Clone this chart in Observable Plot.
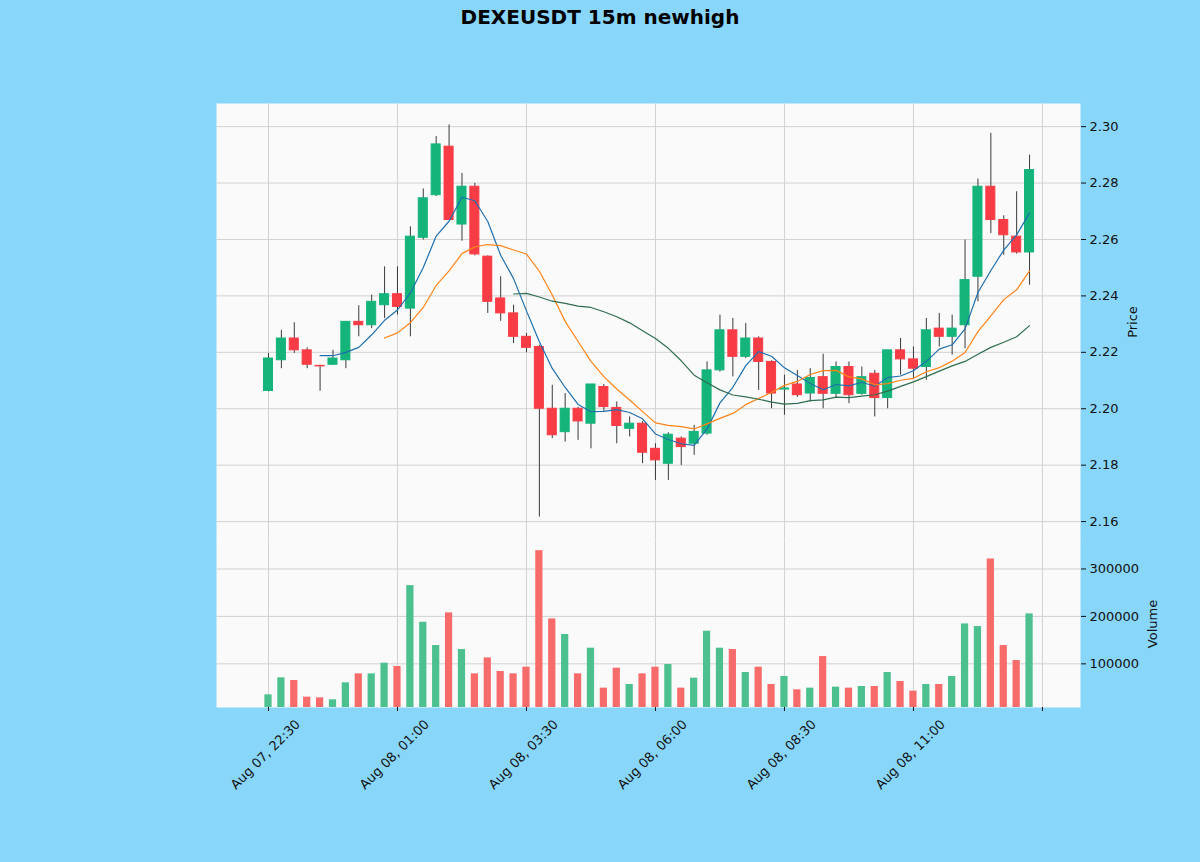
<!DOCTYPE html>
<html>
<head>
<meta charset="utf-8">
<script src="https://cdn.jsdelivr.net/npm/d3@7"></script>
<script src="https://cdn.jsdelivr.net/npm/@observablehq/plot@0.6"></script>
<style>
html,body{margin:0;padding:0;background:#89d6fb;width:1200px;height:862px;overflow:hidden;font-family:"DejaVu Sans",sans-serif;}
#title{position:absolute;left:0;top:5px;width:1200px;text-align:center;font-weight:bold;font-size:20px;color:#000;}
#price{position:absolute;left:0;top:103px;z-index:2;}
#volume{position:absolute;left:0;top:539px;z-index:1;}
svg{overflow:visible;}
</style>
</head>
<body>
<div id="title">DEXEUSDT 15m newhigh</div>
<div id="price"></div>
<div id="volume"></div>
<script>
// ---- data (15m candles, Aug 07 22:30 -> Aug 08 13:15) ----
const opens = [
  2.2063, 2.2172, 2.2249, 2.2207, 2.2152, 2.2156, 2.2172, 2.2308, 2.2296, 2.2367,
  2.2406, 2.2355, 2.2606, 2.2757, 2.2929, 2.2653, 2.2787, 2.2539, 2.2391, 2.2338,
  2.2255, 2.2219, 2.2000, 2.1917, 2.2000, 2.1947, 2.2077, 2.2003, 2.1929, 2.1947,
  2.1858, 2.1805, 2.1894, 2.1876, 2.1912, 2.2136, 2.2278, 2.2184, 2.2249, 2.2166,
  2.2068, 2.2086, 2.2054, 2.2112, 2.2053, 2.2148, 2.2053, 2.2124, 2.2038, 2.2207,
  2.2175, 2.2148, 2.2284, 2.2255, 2.2296, 2.2468, 2.2787, 2.2669, 2.2610, 2.2554
];
const highs = [
  2.2196, 2.2278, 2.2305, 2.2216, 2.2154, 2.2207, 2.2308, 2.2365, 2.2403, 2.2503,
  2.2503, 2.2645, 2.2779, 2.2965, 2.3006, 2.2834, 2.2799, 2.2542, 2.2468, 2.2367,
  2.2267, 2.2225, 2.2083, 2.2054, 2.2005, 2.2086, 2.2086, 2.2024, 2.1971, 2.1955,
  2.1876, 2.1915, 2.1900, 2.1941, 2.2166, 2.2332, 2.2320, 2.2302, 2.2255, 2.2170,
  2.2119, 2.2136, 2.2142, 2.2193, 2.2166, 2.2166, 2.2148, 2.2136, 2.2207, 2.2249,
  2.2219, 2.2320, 2.2338, 2.2332, 2.2598, 2.2814, 2.2976, 2.2684, 2.2769, 2.2899
];
const lows = [
  2.2060, 2.2142, 2.2196, 2.2142, 2.2062, 2.2154, 2.2142, 2.2255, 2.2284, 2.2320,
  2.2332, 2.2255, 2.2598, 2.2752, 2.2669, 2.2594, 2.2542, 2.2338, 2.2310, 2.2231,
  2.2199, 2.1616, 2.1894, 2.1882, 2.1888, 2.1858, 2.1991, 2.1876, 2.1900, 2.1805,
  2.1746, 2.1746, 2.1799, 2.1835, 2.1906, 2.2130, 2.2113, 2.2178, 2.2065, 2.2000,
  2.1977, 2.2040, 2.2024, 2.2000, 2.2036, 2.2018, 2.2048, 2.1971, 2.2000, 2.2119,
  2.2107, 2.2101, 2.2219, 2.2190, 2.2213, 2.2379, 2.2621, 2.2544, 2.2548, 2.2438
];
const closes = [
  2.2178, 2.2249, 2.2207, 2.2156, 2.2150, 2.2178, 2.2308, 2.2296, 2.2379, 2.2406,
  2.2361, 2.2610, 2.2746, 2.2937, 2.2669, 2.2787, 2.2547, 2.2379, 2.2338, 2.2255,
  2.2216, 2.2000, 2.1906, 2.2000, 2.1955, 2.2086, 2.2006, 2.1939, 2.1947, 2.1844,
  2.1817, 2.1908, 2.1864, 2.1918, 2.2136, 2.2278, 2.2184, 2.2249, 2.2166, 2.2054,
  2.2072, 2.2048, 2.2109, 2.2053, 2.2148, 2.2048, 2.2112, 2.2038, 2.2207, 2.2175,
  2.2142, 2.2278, 2.2255, 2.2284, 2.2456, 2.2787, 2.2669, 2.2615, 2.2554, 2.2846
];
const volumes = [
  34700, 70500, 64900, 29800, 28400, 24200, 60000, 78900, 78900, 101400,
  94400, 264900, 187700, 138600, 207400, 130200, 78900, 112600, 83900, 78900,
  93000, 338600, 194700, 161800, 78900, 133000, 48800, 90900, 56500, 78900,
  93000, 98600, 48800, 69800, 168800, 133000, 130200, 81800, 93000, 56500,
  73300, 45300, 48800, 115400, 50900, 48800, 52300, 52300, 81800, 62800,
  42500, 56500, 56500, 73300, 184200, 178600, 321100, 138600, 107000, 205300
];
const xTicks = [0, 10, 20, 30, 40, 50, 60];
const xTickLabels = ["Aug 07, 22:30", "Aug 08, 01:00", "Aug 08, 03:30", "Aug 08, 06:00", "Aug 08, 08:30", "Aug 08, 11:00", ""];
const priceTicks = [2.16, 2.18, 2.20, 2.22, 2.24, 2.26, 2.28, 2.30];
const volumeTicks = [100000, 200000, 300000];
const maPeriods = [5, 10, 20];

// ---- styling ----
const UP = "#14b47a", DOWN = "#f83c45";
const VUP = "#4cc08f", VDOWN = "#f86b6b";
const MA_COLORS = ["#1f6fae", "#ff8418", "#2f6e50"];
const GRID = "#d2d2d2";
const xDomain = [-4.03, 62.95];

const candles = opens.map((o, i) => ({
  i, open: o, high: highs[i], low: lows[i], close: closes[i], volume: volumes[i],
  up: closes[i] >= o
}));
const tickData = xTicks.map((t, k) => ({t, label: xTickLabels[k]}));

const commonStyle = {fontFamily: "DejaVu Sans, sans-serif", fontSize: "13px", background: "transparent", color: "#111", overflow: "visible"};

const price = Plot.plot({
  width: 1200, height: 437,
  marginLeft: 216, marginRight: 120, marginTop: 0, marginBottom: 0,
  style: commonStyle,
  x: {domain: xDomain, axis: null},
  y: {domain: [2.1533, 2.3082]},
  marks: [
    Plot.frame({fill: "#fafafa", stroke: "none"}),
    Plot.gridY(priceTicks, {stroke: GRID, strokeOpacity: 1, strokeWidth: 1}),
    Plot.gridX(xTicks, {stroke: GRID, strokeOpacity: 1, strokeWidth: 1}),
    Plot.ruleX(candles, {x: "i", y1: "low", y2: "high", stroke: "#3a3a3a", strokeWidth: 1}),
    Plot.rect(candles, {
      x1: d => d.i - 0.35, x2: d => d.i + 0.35,
      y1: d => Math.min(d.open, d.close), y2: d => Math.max(d.open, d.close),
      fill: d => d.up ? UP : DOWN, stroke: d => d.up ? UP : DOWN, strokeWidth: 1
    }),
    ...maPeriods.map((k, j) => Plot.lineY(candles, Plot.windowY({k, anchor: "end", strict: true}, {
      x: "i", y: "close", stroke: MA_COLORS[j], strokeWidth: 1.2
    }))),
    Plot.axisY(priceTicks, {
      anchor: "right", tickFormat: d3.format(".2f"), tickSize: 5, tickPadding: 4,
      label: "Price", labelAnchor: "center", labelArrow: "none", labelOffset: 56
    })
  ]
});
document.getElementById("price").appendChild(price);

const volume = Plot.plot({
  width: 1200, height: 323,
  marginLeft: 216, marginRight: 120, marginTop: 1, marginBottom: 155,
  style: commonStyle,
  x: {domain: xDomain, axis: null},
  y: {domain: [8000, 360000]},
  marks: [
    Plot.frame({fill: "#fafafa", stroke: "none", insetTop: -1}),
    Plot.gridY(volumeTicks, {stroke: GRID, strokeOpacity: 1, strokeWidth: 1}),
    Plot.gridX(xTicks, {stroke: GRID, strokeOpacity: 1, strokeWidth: 1, insetTop: -1}),
    Plot.rectY(candles, {
      x1: d => d.i - 0.28, x2: d => d.i + 0.28, y1: 0, y2: "volume",
      fill: d => d.up ? VUP : VDOWN, clip: true
    }),
    Plot.axisY(volumeTicks, {
      anchor: "right", tickFormat: d => String(d), tickSize: 5, tickPadding: 4,
      label: "Volume", labelAnchor: "center", labelArrow: "none", labelOffset: 76
    }),
    Plot.axisX(xTicks, {anchor: "bottom", tickSize: 4, tickFormat: () => "", label: null}),
    Plot.text(tickData, {
      x: "t", text: "label", frameAnchor: "bottom", dy: 50,
      rotate: -45, textAnchor: "middle", fontSize: 13, fill: "#111"
    })
  ]
});
document.getElementById("volume").appendChild(volume);
</script>
</body>
</html>
